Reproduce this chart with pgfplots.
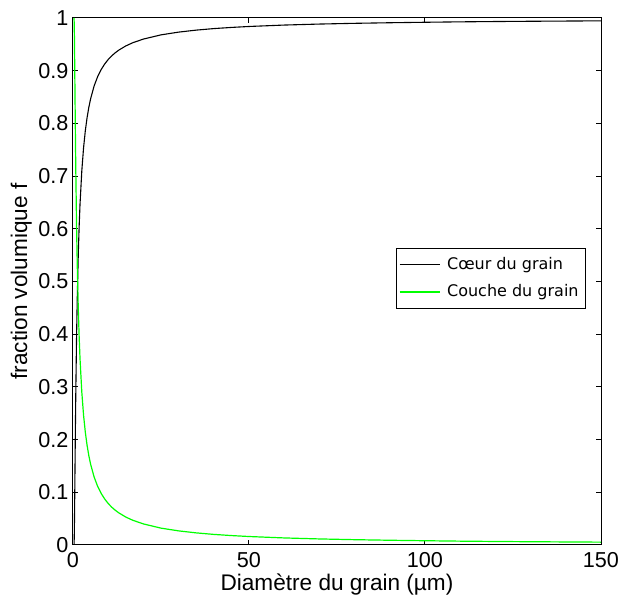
\documentclass[border=0pt]{standalone}
\usepackage{fontspec}
\setmainfont{Liberation Sans}
\newfontfamily\legfont{DejaVu Sans}
\usepackage{pgfplots}
\pgfplotsset{compat=1.18}
\definecolor{mgreen}{RGB}{0,255,0}
\begin{document}
\begin{tikzpicture}
\begin{axis}[
  name=ax,
  scale only axis,
  width=264pt, height=263.5pt,
  xmin=0, xmax=150, ymin=0, ymax=1,
  xtick={0,50,100,150},
  ytick={0,0.1,...,1},
  yticklabels={0,0.1,0.2,0.3,0.4,0.5,0.6,0.7,0.8,0.9,1},
  tick align=inside,
  xtick pos=both, ytick pos=both,
  major tick length=2.5pt,
  axis line style={line width=0.5pt},
  every tick/.style={black, line width=0.5pt},
  /pgf/number format/assume math mode=true,
  ticklabel style={font=\fontsize{10.8}{12}\selectfont},
  yticklabel style={xshift=1.2pt},
  xticklabel style={yshift=0pt},
  label style={font=\fontsize{11.3}{13}\selectfont},
  xlabel={Diamètre du grain (µm)},
  ylabel={fraction volumique f},
  xlabel style={at={(axis description cs:0.5,-0.0858)}, anchor=base},
  ylabel style={at={(axis description cs:-0.0871,0.5)}, anchor=base, rotate=0},
  legend style={at={(axis description cs:0.9716,0.506)}, anchor=east,
    draw=black, line width=0.4pt, fill=white, font=\legfont\fontsize{8}{9.5}\selectfont,
    row sep=2pt, inner xsep=1.5pt, inner ysep=2.5pt},
  legend cell align=left,
  legend image code/.code={\draw[#1] (0pt,0pt) -- (20pt,0pt);},
]
\addplot[black, line width=0.55pt] coordinates {
(0.27,0) (0.3,0.001) (0.35,0.0119) (0.4,0.0343) (0.5,0.0973) (0.6,0.1664) (0.7,0.2318) (0.8,0.2908)
(1,0.389) (1.2,0.4655) (1.5,0.5514) (1.75,0.6048) (2,0.6472) (2.5,0.7097) (3,0.7536) (3.5,0.7860)
(4,0.8109) (4.5,0.8306) (5,0.8466) (6,0.8710) (7,0.8887) (8,0.9021) (9,0.9127) (10,0.9212)
(11,0.9282) (12,0.9340) (13,0.9390) (15,0.9470) (17,0.9531) (20,0.9600) (25,0.9680) (30,0.9732)
(35,0.9770) (40,0.9799) (45,0.9821) (50,0.9839) (60,0.9866) (70,0.9885) (80,0.9899) (90,0.9910)
(100,0.9919) (110,0.9927) (120,0.9933) (130,0.9938) (140,0.9942) (150,0.9946)
};
\addlegendentry{\hspace{1.5pt}Cœur du grain}
\addplot[mgreen, line width=0.6pt] coordinates {
(0.27,1) (0.3,0.999) (0.35,0.9881) (0.4,0.9657) (0.5,0.9027) (0.6,0.8336) (0.7,0.7682) (0.8,0.7092)
(1,0.611) (1.2,0.5345) (1.5,0.4486) (1.75,0.3952) (2,0.3528) (2.5,0.2903) (3,0.2464) (3.5,0.2140)
(4,0.1891) (4.5,0.1694) (5,0.1534) (6,0.1290) (7,0.1113) (8,0.0979) (9,0.0873) (10,0.0788)
(11,0.0718) (12,0.0660) (13,0.0610) (15,0.0530) (17,0.0469) (20,0.0400) (25,0.0320) (30,0.0268)
(35,0.0230) (40,0.0201) (45,0.0179) (50,0.0161) (60,0.0134) (70,0.0115) (80,0.0101) (90,0.0090)
(100,0.0081) (110,0.0073) (120,0.0067) (130,0.0062) (140,0.0058) (150,0.0054)
};
\addlegendentry{\hspace{1.5pt}Couche du grain\hspace{10.5pt}}
\end{axis}
\pgfresetboundingbox
\path[use as bounding box] (-36.5pt,-25pt) rectangle (274.5pt,272.5pt);
\end{tikzpicture}
\end{document}
